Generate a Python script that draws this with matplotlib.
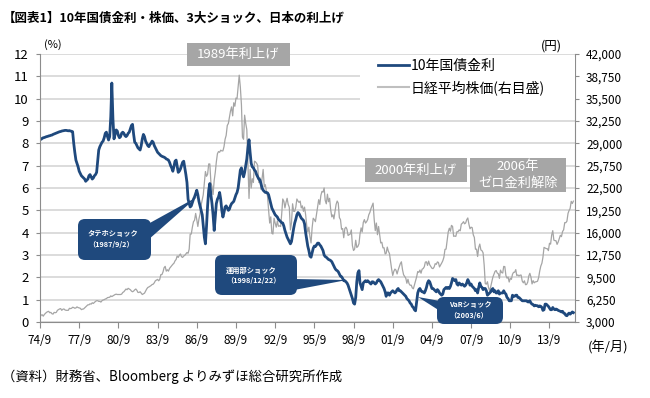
import matplotlib.pyplot as plt
from matplotlib.patches import Rectangle, FancyBboxPatch, Polygon
from matplotlib.lines import Line2D
from matplotlib.transforms import Affine2D
import pandas as pd

plt.rcParams['font.family'] = ['Noto Sans CJK JP', 'DejaVu Sans']

# monthly data, 1974/9 .. 2015/7
start_month = '1974-09-01'

jgb_10y = [
    8.20, 8.18, 8.22, 8.25,                                              # 1974 (9-12)
    8.26, 8.28, 8.30, 8.31, 8.33, 8.34, 8.36, 8.37, 8.40, 8.42, 8.44, 8.46,  # 1975
    8.48, 8.50, 8.52, 8.53, 8.55, 8.56, 8.57, 8.58, 8.58, 8.57, 8.56, 8.57,  # 1976
    8.55, 8.54, 8.52, 8.00, 7.60, 7.25, 7.10, 6.95, 6.75, 6.65, 6.55, 6.50,  # 1977
    6.45, 6.40, 6.30, 6.35, 6.40, 6.55, 6.60, 6.50, 6.40, 6.45, 6.55, 6.60,  # 1978
    6.70, 7.20, 7.70, 7.85, 7.95, 8.05, 8.10, 8.25, 8.45, 8.50, 8.30, 8.15,  # 1979
    8.30, 9.20, 10.70, 9.10, 8.20, 8.40, 8.60, 8.55, 8.35, 8.25, 8.30, 8.45, # 1980
    8.50, 8.45, 8.35, 8.30, 8.35, 8.45, 8.50, 8.65, 8.80, 8.85, 8.40, 8.05,  # 1981
    8.00, 7.90, 7.80, 7.75, 7.70, 7.90, 8.20, 8.40, 8.30, 8.10, 8.00, 7.90,  # 1982
    7.85, 7.95, 8.00, 8.10, 8.05, 7.90, 7.80, 7.70, 7.60, 7.55, 7.50, 7.45,  # 1983
    7.42, 7.40, 7.38, 7.35, 7.30, 7.28, 7.25, 7.15, 7.00, 6.90, 6.75, 6.95,  # 1984
    7.20, 7.25, 7.00, 6.70, 6.75, 6.85, 7.00, 7.15, 7.20, 6.90, 6.60, 6.25,  # 1985
    5.50, 5.30, 5.15, 5.20, 5.35, 5.50, 5.60, 5.75, 5.90, 5.70, 5.40, 5.20,  # 1986
    5.00, 4.80, 4.30, 3.80, 3.50, 4.30, 5.20, 5.90, 6.20, 5.70, 5.30, 4.80,  # 1987
    4.10, 4.70, 5.30, 5.50, 5.60, 5.80, 5.50, 5.00, 4.70, 4.90, 5.15, 5.20,  # 1988
    5.10, 5.00, 5.05, 5.20, 5.30, 5.35, 5.40, 5.55, 5.70, 5.80, 6.00, 6.40,  # 1989
    6.80, 6.90, 6.65, 6.50, 6.70, 7.00, 7.30, 7.80, 8.16, 7.60, 7.10, 6.95,  # 1990
    6.90, 6.80, 6.75, 6.60, 6.50, 6.40, 6.37, 6.20, 6.00, 5.90, 5.85, 5.80,  # 1991
    5.80, 5.78, 5.70, 5.50, 5.30, 5.10, 5.00, 4.90, 4.80, 4.75, 4.70, 4.60,  # 1992
    4.55, 4.50, 4.45, 4.43, 4.30, 4.10, 3.95, 3.80, 3.70, 3.60, 3.50, 3.60,  # 1993
    3.90, 4.20, 4.43, 4.60, 4.80, 4.90, 4.85, 4.75, 4.65, 4.60, 4.55, 4.40,  # 1994
    4.00, 3.70, 3.40, 3.20, 2.95, 2.90, 3.10, 3.30, 3.40, 3.38, 3.45, 3.53,  # 1995
    3.53, 3.45, 3.40, 3.30, 3.20, 3.00, 2.93, 2.90, 2.85, 2.80, 2.78, 2.75,  # 1996
    2.70, 2.60, 2.50, 2.40, 2.33, 2.30, 2.25, 2.15, 2.05, 2.03, 1.95, 1.85,  # 1997
    1.85, 1.80, 1.75, 1.65, 1.50, 1.35, 1.20, 1.05, 0.85, 0.80, 1.10, 1.80,  # 1998
    2.20, 2.30, 1.75, 1.60, 1.45, 1.75, 1.80, 1.85, 1.80, 1.85, 1.80, 1.75,  # 1999
    1.70, 1.80, 1.80, 1.75, 1.70, 1.75, 1.85, 1.90, 1.85, 1.80, 1.70, 1.60,  # 2000
    1.50, 1.35, 1.15, 1.30, 1.30, 1.20, 1.30, 1.35, 1.40, 1.35, 1.30, 1.35,  # 2001
    1.45, 1.50, 1.40, 1.40, 1.35, 1.30, 1.25, 1.20, 1.15, 1.05, 1.00, 0.95,  # 2002
    0.85, 0.80, 0.70, 0.65, 0.55, 0.50, 0.90, 1.30, 1.45, 1.50, 1.40, 1.35,  # 2003
    1.35, 1.30, 1.40, 1.55, 1.75, 1.85, 1.80, 1.65, 1.50, 1.50, 1.45, 1.40,  # 2004
    1.35, 1.45, 1.40, 1.30, 1.25, 1.20, 1.25, 1.45, 1.50, 1.55, 1.50, 1.55,  # 2005
    1.50, 1.60, 1.75, 1.95, 1.90, 1.85, 1.90, 1.70, 1.65, 1.75, 1.70, 1.65,  # 2006
    1.70, 1.65, 1.60, 1.65, 1.75, 1.90, 1.80, 1.65, 1.70, 1.60, 1.55, 1.50,  # 2007
    1.40, 1.45, 1.30, 1.55, 1.75, 1.60, 1.55, 1.45, 1.50, 1.50, 1.40, 1.20,  # 2008
    1.25, 1.30, 1.35, 1.45, 1.50, 1.35, 1.40, 1.30, 1.30, 1.40, 1.25, 1.30,  # 2009
    1.30, 1.30, 1.40, 1.30, 1.25, 1.10, 1.05, 0.95, 0.95, 0.95, 1.20, 1.15,  # 2010
    1.15, 1.20, 1.20, 1.10, 1.10, 1.05, 1.00, 0.95, 0.95, 0.95, 0.95, 0.95,  # 2011
    0.90, 0.90, 0.95, 0.85, 0.80, 0.78, 0.72, 0.75, 0.73, 0.73, 0.68, 0.72,  # 2012
    0.70, 0.65, 0.52, 0.55, 0.80, 0.80, 0.75, 0.70, 0.62, 0.55, 0.55, 0.65,  # 2013
    0.58, 0.55, 0.58, 0.56, 0.52, 0.50, 0.48, 0.45, 0.48, 0.40, 0.38, 0.30,  # 2014
    0.28, 0.35, 0.40, 0.35, 0.40, 0.45, 0.42,                                # 2015 (1-7)
]

nikkei = [
    3700, 4000, 4050, 3850,                                                  # 1974 (9-12)
    4100, 4250, 4400, 4500, 4550, 4350, 4400, 4200, 4150, 4400, 4350, 4400,  # 1975
    4700, 4800, 4900, 4950, 4700, 4850, 4900, 4750, 4700, 4700, 4700, 4990,  # 1976
    4950, 5000, 5150, 5100, 5000, 5050, 5200, 5100, 5050, 5000, 4800, 4870,  # 1977
    4900, 5050, 5200, 5350, 5500, 5500, 5650, 5600, 5800, 5700, 5850, 6000,  # 1978
    6100, 6100, 6000, 6000, 5900, 6100, 6200, 6250, 6350, 6400, 6550, 6570,  # 1979
    6600, 6800, 6700, 6800, 6900, 7000, 7050, 7000, 7000, 7000, 7000, 7060,  # 1980
    7300, 7400, 7600, 7800, 7700, 7900, 7800, 7700, 7500, 7400, 7500, 7680,  # 1981
    7800, 7600, 7300, 7300, 7400, 7200, 7000, 7100, 7200, 7500, 7800, 8020,  # 1982
    8100, 8200, 8300, 8450, 8500, 8700, 9000, 9100, 9200, 9000, 9200, 9890,  # 1983
    9900, 10300, 10900, 11100, 10400, 10600, 10400, 10800, 11000, 11200, 11400, 11540,  # 1984
    11900, 12100, 12600, 12400, 12700, 12900, 12500, 12400, 12600, 12700, 12900, 13110,  # 1985
    13000, 13600, 15800, 15800, 16800, 17600, 17800, 18800, 17900, 16900, 18000, 18700,  # 1986
    20000, 20800, 21500, 23300, 24900, 24200, 24500, 26000, 26000, 23300, 22700, 21560,  # 1987
    23600, 24800, 26300, 27500, 27800, 27700, 28000, 27900, 27900, 28500, 29600, 30160,  # 1988
    31600, 31900, 32800, 33700, 34300, 33000, 34900, 34400, 35600, 35500, 37300, 38920,  # 1989
    37200, 34600, 29900, 29600, 33100, 31900, 31000, 25900, 20980, 25200, 22500, 23850,  # 1990
    23300, 26400, 26300, 26100, 25800, 23300, 24000, 22300, 23900, 25200, 22700, 22980,  # 1991
    22000, 21300, 19300, 17400, 18300, 15900, 15800, 18100, 17400, 16800, 17700, 16930,  # 1992
    17000, 16900, 18600, 20900, 20600, 19600, 20400, 21000, 20100, 19700, 16400, 17420,  # 1993
    20200, 19100, 19100, 19700, 20900, 20600, 20400, 20600, 19600, 19900, 19100, 19720,  # 1994
    18600, 17000, 16100, 16800, 15400, 14500, 16700, 18100, 17900, 17600, 18700, 19870,  # 1995
    20800, 20100, 21400, 22000, 21900, 22500, 20700, 20200, 21600, 20500, 21000, 19360,  # 1996
    18300, 18600, 18000, 19100, 20100, 20600, 20300, 18200, 17900, 16500, 16600, 15260,  # 1997
    16600, 16800, 16500, 15600, 15700, 15800, 16400, 14100, 13400, 13600, 14900, 13840,  # 1998
    14000, 14400, 15800, 16700, 16100, 17500, 17900, 17400, 17600, 17900, 18600, 18930,  # 1999
    19500, 19900, 20300, 17900, 16300, 17400, 15700, 16900, 15700, 14500, 14600, 13790,  # 2000
    13800, 12900, 13000, 13900, 13300, 12970, 11860, 10710, 9770, 10370, 10700, 10540,   # 2001
    9990, 10590, 11020, 11490, 11760, 10620, 9880, 9620, 9380, 8640, 9220, 8580,        # 2002
    8340, 8360, 7970, 7830, 8420, 9080, 9560, 10340, 10220, 10560, 10100, 10680,        # 2003
    10780, 11040, 11720, 11760, 11240, 11860, 11330, 11080, 10820, 10770, 11000, 11490,  # 2004
    11390, 11740, 11670, 11010, 11280, 11580, 11900, 12410, 13570, 13610, 14870, 16110,  # 2005
    16650, 16210, 17060, 16910, 15470, 15510, 15460, 16140, 16130, 16400, 16270, 17230,  # 2006
    17380, 17600, 17290, 17400, 17880, 18140, 17250, 16570, 16790, 16740, 15680, 15310,  # 2007
    13590, 13600, 12530, 13850, 14340, 13480, 13380, 13070, 11260, 8580, 8510, 8860,     # 2008
    7990, 7570, 8110, 8830, 9520, 9960, 10360, 10490, 10130, 10030, 9350, 10550,        # 2009
    10200, 10130, 11090, 11060, 9770, 9380, 9540, 8820, 9370, 9200, 9940, 10230,        # 2010
    10240, 10620, 9760, 9850, 9690, 9820, 9830, 8950, 8700, 8990, 8430, 8460,           # 2011
    8800, 9720, 10080, 9520, 8540, 9010, 8700, 8840, 8870, 8930, 9450, 10400,           # 2012
    11140, 11560, 12400, 13860, 13770, 13680, 13670, 13390, 14460, 14330, 15660, 16290,  # 2013
    14910, 14840, 14830, 14300, 14630, 15160, 15620, 15420, 16170, 16410, 17460, 17450,  # 2014
    17670, 18800, 19210, 19520, 20560, 20240, 20590,                                    # 2015 (1-7)
]

tick_years = list(range(1974, 2014, 3))
tick_labels = ['%02d/9' % (y % 100) for y in tick_years]

left_ticks = list(range(0, 13))
right_ticks = [3000, 6250, 9500, 12750, 16000, 19250, 22500, 25750,
               29000, 32250, 35500, 38750, 42000]

label_jgb = '10年国債金利'
label_nikkei = '日経平均株価(右目盛)'

blue = '#1F497D'
gray_line = '#A5A5A5'
box_gray = '#A6A6A6'
axis_gray = '#8C8C8C'

dates = pd.date_range(start=start_month, periods=len(jgb_10y), freq='MS')

W, H = 650, 398
fig = plt.figure(figsize=(W / 100, H / 100), dpi=100)
fig.patch.set_facecolor('white')
px = Affine2D().scale(1 / W, -1 / H).translate(0, 1) + fig.transFigure

ax = fig.add_axes([40 / W, 1 - 322 / H, 535 / W, 268 / H])
ax2 = ax.twinx()
ax.set_zorder(2)
ax.patch.set_visible(False)

ax2.plot(dates, nikkei, color=gray_line, lw=0.9)
ax.plot(dates, jgb_10y, color=blue, lw=2.0)

ax.set_ylim(0, 12)
ax.set_yticks(left_ticks)
ax2.set_ylim(3000, 42000)
ax2.set_yticks(right_ticks)
ax2.set_yticklabels(['{:,}'.format(v) for v in right_ticks])
ax2.yaxis.grid(True, color='#D9D9D9', lw=1.3)
ax2.set_axisbelow(True)

ax.set_xlim(pd.Timestamp(start_month), pd.Timestamp('2015-08-15'))
ax.set_xticks([pd.Timestamp('%d-09-01' % y) for y in tick_years])
ax.set_xticklabels(tick_labels)

for a in (ax, ax2):
    a.spines['top'].set_visible(False)
ax.spines['right'].set_visible(False)
ax2.spines['left'].set_visible(False)
ax2.spines['bottom'].set_visible(False)
ax.spines['left'].set_color(axis_gray)
ax.spines['bottom'].set_color(axis_gray)
ax2.spines['right'].set_color(axis_gray)

ax.tick_params(axis='y', direction='out', length=3, color=axis_gray,
               labelsize=9.5, pad=5)
ax.tick_params(axis='x', direction='out', length=4, color=axis_gray,
               labelsize=8.5, pad=5)
ax2.tick_params(axis='y', direction='out', length=3, color=axis_gray,
                labelsize=8.5, pad=5)

# texts
fig.text(3 / W, 1 - 18 / H, '【図表1】10年国債金利・株価、3大ショック、日本の利上げ',
         fontsize=9.0, fontweight='bold', va='center', ha='left')
fig.text(53 / W, 1 - 45 / H, '(%)', fontsize=8, ha='center', va='center')
fig.text(551 / W, 1 - 46 / H, '(円)', fontsize=9, ha='center', va='center')
fig.text(608 / W, 1 - 347 / H, '(年/月)', fontsize=9.5, ha='center', va='center')
fig.text(2 / W, 1 - 377 / H, '（資料）財務省、Bloomberg よりみずほ総合研究所作成',
         fontsize=9.6, ha='left', va='center')

# legend with white backing
fig.add_artist(Rectangle((360, 57), 215, 43, transform=px, facecolor='white',
                         edgecolor='none', zorder=3))
handles = [Line2D([], [], color=blue, lw=2.0),
           Line2D([], [], color='#BFBFBF', lw=1.5)]
leg = fig.legend(handles, [label_jgb, label_nikkei], loc='upper left',
                 bbox_to_anchor=(378, 59), bbox_transform=px, frameon=False,
                 fontsize=10, handlelength=2.2, handletextpad=0.15,
                 borderpad=0, borderaxespad=0, labelspacing=0.5)
leg.set_zorder(4)

# gray event boxes
def gray_box(x, y, w, h, lines):
    fig.add_artist(Rectangle((x, y), w, h, transform=px, facecolor=box_gray,
                             edgecolor='none', zorder=5))
    n = len(lines)
    for i, s in enumerate(lines):
        cy = y + h * (i + 0.5) / n
        fig.text((x + w / 2) / W, 1 - cy / H, s, color='white', fontsize=9.5,
                 ha='center', va='center', zorder=6)

gray_box(187, 43, 103, 23, ['1989年利上げ'])
gray_box(365, 158, 102, 24, ['2000年利上げ'])
gray_box(470, 158, 96, 34, ['2006年', 'ゼロ金利解除'])

# blue callouts
def callout(x, y, w, h, tri, lines, tx):
    fig.add_artist(FancyBboxPatch((x, y), w, h, boxstyle='round,pad=0,rounding_size=7',
                                  transform=px, facecolor=blue, edgecolor='none',
                                  zorder=5))
    fig.add_artist(Polygon(tri, closed=True, transform=px, facecolor=blue,
                           edgecolor='none', zorder=5))
    for s, ty in lines:
        fig.text(tx / W, 1 - ty / H, s, color='white', fontsize=5.2,
                 ha='left', va='center', zorder=6, fontweight='bold')

callout(78, 219, 73, 41, [(148, 224), (148, 240), (197, 197)],
        [('タテホショック', 233.5), ('（1987/9/2）', 244.5)], 88)
callout(215, 255, 82, 40, [(294, 279), (294, 290), (347, 280)],
        [('運用部ショック', 270), ('（1998/12/22）', 280.5)], 226)
callout(437, 297, 66, 27, [(440, 301), (440, 311), (418, 297)],
        [('VaRショック', 305), ('（2003/6）', 315.5)], 449)

fig.savefig('out.png', dpi=100, facecolor='white')
